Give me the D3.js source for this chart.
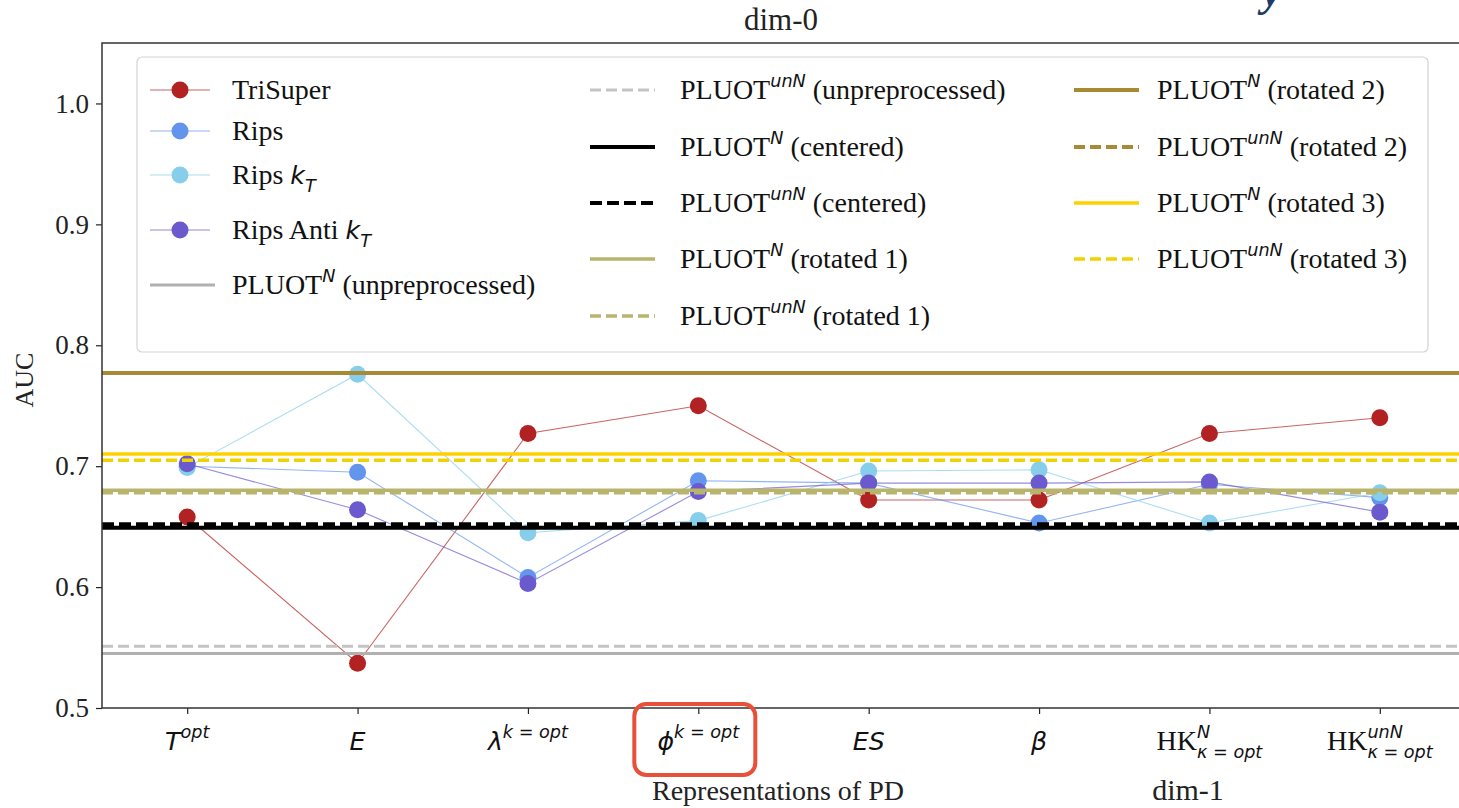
<!DOCTYPE html>
<html>
<head>
<meta charset="utf-8">
<script src="https://cdn.jsdelivr.net/npm/d3@7"></script>
<style>
  html, body { margin: 0; padding: 0; background: #fff; overflow: hidden; }
  svg { display: block; }
</style>
</head>
<body>
<svg id="chart" width="1459" height="808"></svg>
<script>
// ---- data ----
const categories = ["Topt", "E", "lambda", "phi", "ES", "beta", "HKN", "HKunN"];
const yTicks = [0.5, 0.6, 0.7, 0.8, 0.9, 1.0];

const triSuper   = [0.658, 0.537, 0.727, 0.750, 0.672, 0.672, 0.727, 0.740];
const rips       = [0.700, 0.695, 0.608, 0.688, 0.686, 0.653, 0.685, 0.674];
const ripsKT     = [0.699, 0.776, 0.645, 0.655, 0.696, 0.697, 0.653, 0.678];
const ripsAntiKT = [0.702, 0.664, 0.603, 0.679, 0.686, 0.686, 0.687, 0.662];

// reference AUC levels (horizontal lines)
const pluotN_unpre    = 0.545;
const pluotUnN_unpre  = 0.551;
const pluotN_center   = 0.649;
const pluotUnN_center = 0.652;
const pluotN_rot1     = 0.680;
const pluotUnN_rot1   = 0.678;
const pluotN_rot2     = 0.777;
const pluotUnN_rot2   = 0.777;
const pluotN_rot3     = 0.710;
const pluotUnN_rot3   = 0.705;

// ---- fonts ----
const SERIF = "'Liberation Serif', 'Times New Roman', Times, serif";
const MATH = "'DejaVu Sans', sans-serif";

const svg = d3.select("#chart");

// ---- scales ----
const plot = { left: 102, right: 1465, top: 43, bottom: 708 };
const x = d3.scaleLinear().domain([-0.5, categories.length - 0.5]).range([plot.left, plot.right]);
const y = d3.scaleLinear().domain([0.5, 1.05]).range([plot.bottom, plot.top]);

// ---- text with super/subscripts (mathtext-like) ----
function rich(parent, px, py, segs, size, anchor) {
  const g = parent.append("g");
  let cx = 0, supStart = 0;
  segs.forEach(s => {
    const p = s.p || "b";
    const sz = p === "b" ? size : size * 0.7;
    const dy = p === "sup" ? -size * 0.42 : p === "sub" ? size * 0.3 : 0;
    const sx = (p === "sub" && s.stack) ? supStart : cx;
    const t = g.append("text")
      .attr("x", sx).attr("y", dy)
      .attr("font-size", sz * (s.f === "it" ? 0.9 : 1))
      .attr("font-family", s.f === "it" ? MATH : SERIF)
      .attr("font-style", s.f === "it" ? "italic" : "normal")
      .attr("fill", "#111")
      .style("white-space", "pre")
      .text(s.t);
    const w = t.node().getComputedTextLength();
    if (p === "sup") supStart = cx;
    cx = (p === "sub" && s.stack) ? Math.max(cx, sx + w) : sx + w;
  });
  const shift = anchor === "middle" ? -cx / 2 : anchor === "end" ? -cx : 0;
  g.attr("transform", `translate(${px + shift},${py})`);
  return g;
}

// ---- series ----
const seriesList = [
  { name: "TriSuper", values: triSuper, color: "#b22222" },
  { name: "Rips", values: rips, color: "#6495ed" },
  { name: "Rips kT", values: ripsKT, color: "#87ceeb" },
  { name: "Rips Anti kT", values: ripsAntiKT, color: "#6a5acd" }
];

const lineGen = d3.line().x((d, i) => x(i)).y(d => y(d));
const seriesG = svg.append("g");
seriesList.forEach(s => {
  seriesG.append("path")
    .attr("d", lineGen(s.values))
    .attr("fill", "none")
    .attr("stroke", s.color)
    .attr("stroke-width", 1.1)
    .attr("stroke-opacity", 0.7);
  seriesG.selectAll(null).data(s.values).enter().append("circle")
    .attr("cx", (d, i) => x(i))
    .attr("cy", d => y(d))
    .attr("r", 8.5)
    .attr("fill", s.color);
});

// ---- horizontal reference levels ----
const hlines = [
  { v: pluotN_unpre, color: "#b0b0b0", dash: null, w: 3 },
  { v: pluotUnN_unpre, color: "#c4c4c4", dash: "11,5", w: 3 },
  { v: pluotN_center, color: "#000000", dash: null, w: 4 },
  { v: pluotUnN_center, color: "#000000", dash: "12,5", w: 4 },
  { v: pluotN_rot1, color: "#b9b46c", dash: null, w: 3.5 },
  { v: pluotUnN_rot1, color: "#b9b46c", dash: "11,5", w: 3.5 },
  { v: pluotUnN_rot2, color: "#a88a35", dash: "11,5", w: 4 },
  { v: pluotN_rot2, color: "#a88a35", dash: null, w: 4 },
  { v: pluotN_rot3, color: "#ffd000", dash: null, w: 3.5 },
  { v: pluotUnN_rot3, color: "#f0d200", dash: "11,5", w: 3.5 }
];
svg.append("g").selectAll("line").data(hlines).enter().append("line")
  .attr("x1", plot.left).attr("x2", plot.right)
  .attr("y1", d => y(d.v)).attr("y2", d => y(d.v))
  .attr("stroke", d => d.color)
  .attr("stroke-width", d => d.w)
  .attr("stroke-dasharray", d => d.dash);

// ---- axes ----
const yAxis = d3.axisLeft(y).tickValues(yTicks).tickFormat(d3.format(".1f")).tickSize(6).tickPadding(7);
const yg = svg.append("g").attr("transform", `translate(${plot.left},0)`).call(yAxis);
yg.select(".domain").remove();
yg.selectAll(".tick line").attr("stroke", "#222").attr("stroke-width", 1.2);
yg.selectAll(".tick text").attr("font-family", SERIF).attr("font-size", 27).attr("fill", "#222");

const xAxis = d3.axisBottom(x).tickValues(d3.range(categories.length)).tickFormat("").tickSize(6);
const xg = svg.append("g").attr("transform", `translate(0,${plot.bottom})`).call(xAxis);
xg.select(".domain").remove();
xg.selectAll(".tick line").attr("stroke", "#222").attr("stroke-width", 1.2);

// spines
svg.append("path")
  .attr("d", `M${plot.right},${plot.top}H${plot.left}V${plot.bottom}H${plot.right}`)
  .attr("fill", "none").attr("stroke", "#333").attr("stroke-width", 1.5);

// x tick labels
const kOpt = "k = opt";
const xLabelSegs = {
  Topt:   [{ t: "T", f: "it" }, { t: "opt", f: "it", p: "sup" }],
  E:      [{ t: "E", f: "it" }],
  lambda: [{ t: "λ", f: "it" }, { t: kOpt, f: "it", p: "sup" }],
  phi:    [{ t: "ϕ", f: "it" }, { t: kOpt, f: "it", p: "sup" }],
  ES:     [{ t: "ES", f: "it" }],
  beta:   [{ t: "β", f: "it" }],
  HKN:    [{ t: "HK", f: "rm" }, { t: "N", f: "it", p: "sup" }, { t: "κ = opt", f: "it", p: "sub", stack: true }],
  HKunN:  [{ t: "HK", f: "rm" }, { t: "unN", f: "it", p: "sup" }, { t: "κ = opt", f: "it", p: "sub", stack: true }]
};
categories.forEach((c, i) => {
  rich(svg, x(i), 750, xLabelSegs[c], 28, "middle");
});

// axis titles
svg.append("text").attr("x", 778).attr("y", 800).attr("text-anchor", "middle")
  .attr("font-family", SERIF).attr("font-size", 28).attr("fill", "#222")
  .text("Representations of PD");
svg.append("text").attr("transform", "translate(33,380) rotate(-90)").attr("text-anchor", "middle")
  .attr("font-family", SERIF).attr("font-size", 26).attr("fill", "#222")
  .text("AUC");
svg.append("text").attr("x", 781).attr("y", 30).attr("text-anchor", "middle")
  .attr("font-family", SERIF).attr("font-size", 31).attr("fill", "#222")
  .text("dim-0");
svg.append("text").attr("x", 1188).attr("y", 800).attr("text-anchor", "middle")
  .attr("font-family", SERIF).attr("font-size", 30).attr("fill", "#222")
  .text("dim-1");

// highlight box around the ϕ representation
svg.append("rect")
  .attr("x", x(3) - 64).attr("y", 704).attr("width", 121).attr("height", 71)
  .attr("rx", 12).attr("fill", "none").attr("stroke", "#e8503a").attr("stroke-width", 4);

// navy glyph fragment at the top edge
svg.append("text").attr("x", 1262).attr("y", 6)
  .attr("font-family", SERIF).attr("font-style", "italic").attr("font-weight", "bold")
  .attr("font-size", 44).attr("fill", "#1e3a66").text("y");

// ---- legend ----
const legend = svg.append("g");
legend.append("rect")
  .attr("x", 137).attr("y", 57).attr("width", 1291).attr("height", 295)
  .attr("rx", 5).attr("fill", "#fff").attr("fill-opacity", 0.85)
  .attr("stroke", "#d4d4d4").attr("stroke-width", 1.2);

function pluotSegs(sup, tail) {
  return [{ t: "PLUOT", f: "rm" }, { t: sup, f: "it", p: "sup" }, { t: " " + tail, f: "rm" }];
}
const legendCols = [
  { hx: 150, tx: 232, rows: [
    { y: 90,  kind: "marker", color: "#b22222", segs: [{ t: "TriSuper", f: "rm" }] },
    { y: 131, kind: "marker", color: "#6495ed", segs: [{ t: "Rips", f: "rm" }] },
    { y: 175, kind: "marker", color: "#87ceeb", segs: [{ t: "Rips ", f: "rm" }, { t: "k", f: "it" }, { t: "T", f: "it", p: "sub" }] },
    { y: 230, kind: "marker", color: "#6a5acd", segs: [{ t: "Rips Anti ", f: "rm" }, { t: "k", f: "it" }, { t: "T", f: "it", p: "sub" }] },
    { y: 285, kind: "line", line: hlines[0], segs: pluotSegs("N", "(unpreprocessed)") }
  ]},
  { hx: 590, tx: 680, rows: [
    { y: 90,  kind: "line", line: hlines[1], segs: pluotSegs("unN", "(unpreprocessed)") },
    { y: 147, kind: "line", line: hlines[2], segs: pluotSegs("N", "(centered)") },
    { y: 203, kind: "line", line: hlines[3], segs: pluotSegs("unN", "(centered)") },
    { y: 259, kind: "line", line: hlines[4], segs: pluotSegs("N", "(rotated 1)") },
    { y: 316, kind: "line", line: hlines[5], segs: pluotSegs("unN", "(rotated 1)") }
  ]},
  { hx: 1074, tx: 1157, rows: [
    { y: 90,  kind: "line", line: hlines[7], segs: pluotSegs("N", "(rotated 2)") },
    { y: 147, kind: "line", line: hlines[6], segs: pluotSegs("unN", "(rotated 2)") },
    { y: 203, kind: "line", line: hlines[8], segs: pluotSegs("N", "(rotated 3)") },
    { y: 259, kind: "line", line: hlines[9], segs: pluotSegs("unN", "(rotated 3)") }
  ]}
];
legendCols.forEach(col => {
  col.rows.forEach(r => {
    if (r.kind === "marker") {
      legend.append("line").attr("x1", col.hx).attr("x2", col.hx + 60)
        .attr("y1", r.y).attr("y2", r.y)
        .attr("stroke", r.color).attr("stroke-width", 1.1).attr("stroke-opacity", 0.7);
      legend.append("circle").attr("cx", col.hx + 30).attr("cy", r.y).attr("r", 8.5).attr("fill", r.color);
    } else {
      legend.append("line").attr("x1", col.hx).attr("x2", col.hx + 65)
        .attr("y1", r.y).attr("y2", r.y)
        .attr("stroke", r.line.color).attr("stroke-width", r.line.w)
        .attr("stroke-dasharray", r.line.dash);
    }
    rich(legend, col.tx, r.y + 9, r.segs, 28, "start");
  });
});
</script>
</body>
</html>
